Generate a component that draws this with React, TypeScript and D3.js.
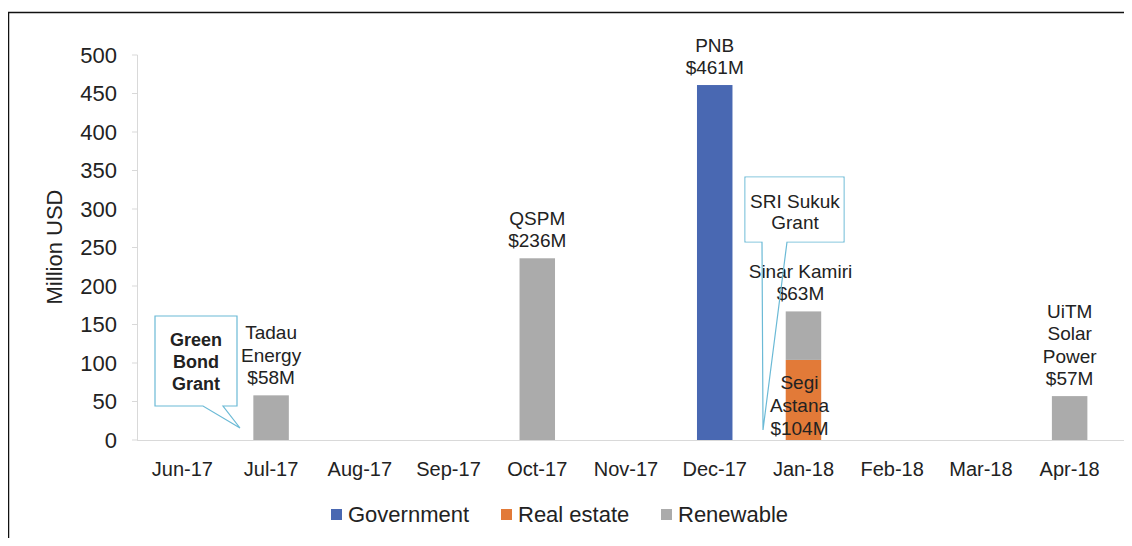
import React from "react";
import * as d3 from "d3";

const categories = ["Jun-17", "Jul-17", "Aug-17", "Sep-17", "Oct-17", "Nov-17", "Dec-17", "Jan-18", "Feb-18", "Mar-18", "Apr-18"];
const government = [0, 0, 0, 0, 0, 0, 461, 0, 0, 0, 0];
const realEstate = [0, 0, 0, 0, 0, 0, 0, 104, 0, 0, 0];
const renewable = [0, 58, 0, 0, 236, 0, 0, 63, 0, 0, 57];
const yTicks = [0, 50, 100, 150, 200, 250, 300, 350, 400, 450, 500];
const seriesNames = ["Government", "Real estate", "Renewable"];
const seriesColors = ["#4968B2", "#E27A38", "#ABABAB"];

// top-of-bar labels: category, lines
const topLabels: { cat: string; lines: string[] }[] = [
  { cat: "Jul-17", lines: ["Tadau", "Energy", "$58M"] },
  { cat: "Oct-17", lines: ["QSPM", "$236M"] },
  { cat: "Dec-17", lines: ["PNB", "$461M"] },
  { cat: "Jan-18", lines: ["Sinar Kamiri", "$63M"] },
  { cat: "Apr-18", lines: ["UiTM", "Solar", "Power", "$57M"] },
];
const innerLabel = { cat: "Jan-18", lines: ["Segi", "Astana", "$104M"] };

const FONT = "'Liberation Sans', Arial, sans-serif";

export default function App() {
  const W = 1132, H = 546;
  const x = d3.scaleBand<string>().domain(categories).range([138, 1114]).paddingInner(0.6).paddingOuter(0.3);
  const y = d3.scaleLinear().domain([0, 500]).range([440, 55]);

  const stackData = categories.map((c, i) => ({ cat: c, Government: government[i], "Real estate": realEstate[i], Renewable: renewable[i] }));
  const stack = d3.stack<any>().keys(seriesNames)(stackData);

  const bw = x.bandwidth();
  const cx = (c: string) => (x(c) as number) + bw / 2;
  const totals = categories.map((_, i) => government[i] + realEstate[i] + renewable[i]);
  const lineH = 22.5;

  const callout = (l: number, r: number, t: number, b: number, p1: number, p2: number, tx: number, ty: number) =>
    `M${l},${t}H${r}V${b}H${p2}L${tx},${ty}L${p1},${b}H${l}Z`;

  return (
    <svg width={W} height={H - 16} style={{ display: "block" }} fontFamily={FONT}>
      <g transform="translate(-8,-8)">
        {/* frame */}
        <line x1={8} x2={1140} y1={12.5} y2={12.5} stroke="#111" strokeWidth={1.5} />
        <line x1={8.5} x2={8.5} y1={12} y2={560} stroke="#111" strokeWidth={1.5} />

        {/* y axis */}
        <line x1={137.5} x2={137.5} y1={y(500)} y2={y(0)} stroke="#D9D9D9" />
        {yTicks.map((t) => (
          <g key={t}>
            <line x1={132} x2={137.5} y1={y(t)} y2={y(t)} stroke="#D9D9D9" />
            <text x={117} y={y(t) + 7.5} textAnchor="end" fontSize={22} fill="#222">{t}</text>
          </g>
        ))}
        <text transform={`translate(54,247) rotate(-90)`} textAnchor="middle" fontSize={22} dy={8} fill="#222">Million USD</text>

        {/* bars */}
        {stack.map((s, si) => (
          <g key={s.key} fill={seriesColors[si]}>
            {s.map((d, i) => d[1] - d[0] > 0 ? (
              <rect key={i} x={x(categories[i])} width={bw} y={y(d[1])} height={y(d[0]) - y(d[1])} />
            ) : null)}
          </g>
        ))}

        {/* x axis */}
        <line x1={137} x2={1125} y1={440.5} y2={440.5} stroke="#D9D9D9" />
        {categories.map((c) => (
          <text key={c} x={cx(c)} y={476} textAnchor="middle" fontSize={20} fill="#222">{c}</text>
        ))}

        {/* top labels */}
        {topLabels.map((lab) => {
          const i = categories.indexOf(lab.cat);
          const base = y(totals[i]) - 11;
          return (
            <text key={lab.cat} x={cx(lab.cat)} textAnchor="middle" fontSize={19} fill="#222">
              {lab.lines.map((ln, k) => (
                <tspan key={k} x={cx(lab.cat) - (lab.cat === "Jan-18" ? 3 : 0)} y={base - (lab.lines.length - 1 - k) * lineH}>{ln}</tspan>
              ))}
            </text>
          );
        })}
        {/* inner label */}
        <text x={cx(innerLabel.cat) - 4} textAnchor="middle" fontSize={19} fill="#222">
          {innerLabel.lines.map((ln, k) => (
            <tspan key={k} x={cx(innerLabel.cat) - 4} y={389 + k * 23}>{ln}</tspan>
          ))}
        </text>

        {/* callouts */}
        <path d={callout(155, 237, 316, 406, 203, 223, 240, 428)} fill="#fff" stroke="#6BBAD6" strokeWidth={1.2} />
        <text textAnchor="middle" fontSize={18} fontWeight="bold" fill="#222">
          <tspan x={196} y={346}>Green</tspan>
          <tspan x={196} y={368}>Bond</tspan>
          <tspan x={196} y={390}>Grant</tspan>
        </text>
        <path d={`M745,177H844V242H787L763,430L762,242H745Z`} fill="none" stroke="#6BBAD6" strokeWidth={1.2} />
        <rect x={745.6} y={177.6} width={97.8} height={63.8} fill="#fff" />
        <text textAnchor="middle" fontSize={19} fill="#222">
          <tspan x={795} y={208}>SRI Sukuk</tspan>
          <tspan x={795} y={229}>Grant</tspan>
        </text>

        {/* legend */}
        {seriesNames.map((n, i) => {
          const lx = [331, 501, 661][i];
          return (
            <g key={n}>
              <rect x={lx} y={509} width={11} height={11} fill={seriesColors[i]} />
              <text x={lx + 17} y={522} fontSize={22} fill="#222">{n}</text>
            </g>
          );
        })}
      </g>
    </svg>
  );
}
